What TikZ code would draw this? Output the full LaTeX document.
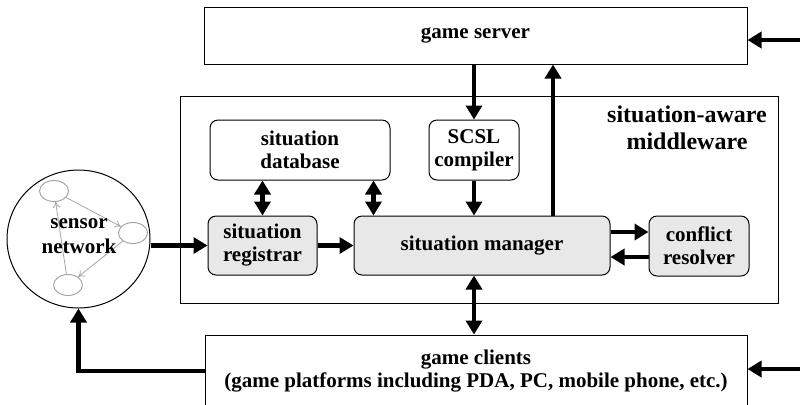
\documentclass[tikz,border=0pt]{standalone}
\usepackage{fontspec}
\setmainfont{Liberation Serif}
\usetikzlibrary{arrows.meta,shapes.geometric,calc}

\tikzset{
  box/.style={draw, line width=0.5pt, align=center, inner sep=0pt, font=\bfseries\fontsize{10.5}{11.5}\selectfont},
  rbox/.style={box, rounded corners=4pt},
  gbox/.style={rbox, fill=black!9},
  arr/.style={line width=2.2pt, -{Triangle[length=7pt,width=8pt]}},
  darr/.style={line width=2.2pt, {Triangle[length=7pt,width=8pt]}-{Triangle[length=7pt,width=8pt]}},
  sens/.style={draw=black!35, ellipse, line width=0.5pt, minimum width=14.5pt, minimum height=10.5pt, inner sep=0pt},
  sarr/.style={draw=black!35, line width=0.4pt, -{To[length=3pt,width=4pt]}}
}

\begin{document}
\begin{tikzpicture}[x=0.5pt,y=-0.5pt]
\useasboundingbox (0,0) rectangle (800,404);

% middleware frame
\node[box, minimum width=299pt, minimum height=103.5pt] (mw) at (479,199.5) {};
\node[font=\bfseries\fontsize{12}{13.5}\selectfont, align=center] (mwlabel) at (687,128) {situation-aware\\middleware};

\node[box, minimum width=271.5pt, minimum height=28.5pt] (server) at (475.5,35.5) {game server};
\node[box, minimum width=271pt, minimum height=36pt] (clients) at (476,371) {game clients\\(game platforms including PDA, PC, mobile phone, etc.)};

\node[rbox, minimum width=90pt, minimum height=30pt] (database) at (300,150) {situation\\database};
\node[rbox, minimum width=45pt, minimum height=30pt] (scsl) at (474,150) {SCSL\\compiler};
\node[gbox, minimum width=54.5pt, minimum height=29.5pt] (registrar) at (262.5,245.5) {situation\\registrar};
\node[gbox, minimum width=128pt, minimum height=29.5pt] (manager) at (482,245.5) {situation manager};
\node[gbox, minimum width=50pt, minimum height=30pt] (conflict) at (699,246) {conflict\\resolver};

% sensor network
\node[box, ellipse, minimum width=71.5pt, minimum height=69pt] (sensor) at (78.5,239) {};
\node[sens] (s1) at (54,191) {};
\node[sens] (s2) at (133,233) {};
\node[sens] (s3) at (68,285) {};
\draw[sarr] (s1) -- (s2);
\draw[sarr] (s2) -- (s3);
\draw[sarr] (s3) -- (s1);
\node[font=\bfseries\fontsize{10.5}{12.5}\selectfont, align=center] (sensorlabel) at (79,236) {sensor\\network};

% free ends and offsets
\coordinate (inserver) at (800,40);
\coordinate (inclients) at (800,369);
\coordinate (upout) at ($(manager.north)+(71,0)$);
\coordinate (dbright) at ($(database.south east)+(-17,0)$);
\coordinate (toconf) at ($(manager.east)+(0,-13.5)$);
\coordinate (fromconf) at ($(conflict.west)+(0,11)$);

% connectors
\draw[arr] (inserver) -- (inserver -| server.east);
\draw[arr] (inclients) -- (inclients -| clients.east);
\draw[arr] (sensor.east |- registrar) -- (registrar.west);
\draw[arr] (clients.west) -| (sensor.south);
\draw[arr] (registrar.east) -- (manager.west |- registrar.east);
\draw[arr] (server.south -| scsl.north) -- (scsl.north);
\draw[arr] (scsl.south) -- (scsl.south |- manager.north);
\draw[arr] (upout) -- (upout |- server.south);
\draw[darr] (registrar.north |- database.south) -- (registrar.north);
\draw[darr] (dbright) -- (dbright |- manager.north);
\draw[arr] (toconf) -- (toconf -| conflict.west);
\draw[arr] (fromconf) -- (fromconf -| manager.east);
\draw[darr] (scsl.south |- manager.south) -- (scsl.south |- clients.north);
\end{tikzpicture}
\end{document}
